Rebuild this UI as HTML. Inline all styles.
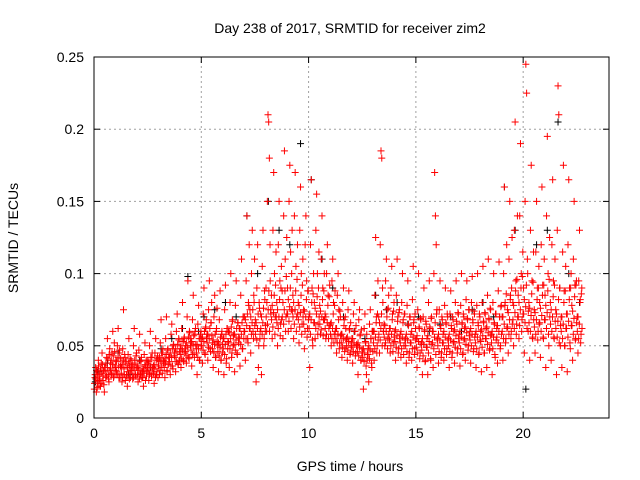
<!DOCTYPE html>
<html><head><meta charset="utf-8"><style>
body{margin:0;background:#fff;}
svg{display:block;font-family:"Liberation Sans",sans-serif;}
</style></head><body>
<svg id="chart" width="640" height="480">
<text x="350" y="33" font-size="14" text-anchor="middle">Day 238 of 2017, SRMTID for receiver zim2</text>
<text x="350" y="471" font-size="14" text-anchor="middle">GPS time / hours</text>
<text x="18" y="238" font-size="14" text-anchor="middle" transform="rotate(-90 18 238)">SRMTID / TECUs</text>
<g id="grid"></g><g id="marks"></g><g id="axes"></g>
</svg>
<script>
// bins: [startHour, values in 1e-3 TECU...]
const redBins = [
[0,20,28,35,18,32,25,40,22],[0.25,30,22,38,45,26,33,18],[0.5,35,28,42,55,30,25,48],[0.75,38,30,45,60,28,52,35],
[1,40,32,50,62,28,45,36],[1.25,35,25,48,75,30,42,38],[1.5,30,22,44,55,36,28,40],[1.75,33,27,50,62,38,29,45],
[2,35,25,47,58,30,40,28],[2.25,32,22,44,52,36,29,40],[2.5,38,26,50,60,31,42,34],[2.75,36,24,45,55,30,41,28],
[3,40,30,52,68,35,45,38],[3.25,38,28,55,70,33,48,42],[3.5,42,30,58,65,36,50,45],[3.75,45,32,60,72,38,55,40],
[4,48,35,62,80,40,55,45],[4.25,50,38,70,95,42,60,55],[4.5,52,36,68,85,45,58,62],[4.75,48,30,65,78,40,55,60],
[5,55,38,72,90,45,62,68],[5.25,58,40,75,95,48,66,80],[5.5,52,35,70,85,42,60,76],[5.75,50,32,68,88,40,58,45],
[6,55,30,75,92,38,62,48],[6.25,60,35,80,100,42,68,50],[6.5,58,32,78,95,45,66,52],[6.75,62,36,85,110,48,70,55],
[7,70,40,95,140,55,80,120],[7.25,75,45,100,130,60,85,110],[7.5,68,25,90,120,35,80,55],[7.75,72,30,105,130,50,88,60],
[8,90,60,150,210,205,180,120,75],[8.25,85,55,130,170,100,70,115],[8.5,80,50,120,150,95,65,105],[8.75,88,55,140,185,110,70,125],
[9,90,60,150,175,115,75,130],[9.25,85,55,140,170,105,70,120],[9.5,80,52,130,160,100,65,110],[9.75,75,48,120,140,95,62,88],
[10,70,35,120,165,90,50,100],[10.25,80,55,130,155,100,65,115],[10.5,78,58,110,140,90,68,100],[10.75,72,55,100,120,85,62,92],
[11,65,50,95,110,80,58,88],[11.25,62,45,85,100,75,52,70],[11.5,58,42,80,90,68,48,62],[11.75,55,40,75,88,62,45,50],
[12,55,38,72,80,60,45,50],[12.25,50,30,68,75,58,40,45],[12.5,45,20,62,72,52,30,40],[12.75,48,25,65,75,55,35,60],
[13,60,40,85,125,70,50,95],[13.25,70,45,120,185,180,90,60],[13.5,65,50,95,110,75,55,85],[13.75,62,45,90,105,72,52,80],
[14,60,40,85,110,70,48,75],[14.25,58,42,80,100,68,50,72],[14.5,55,38,78,95,65,45,70],[14.75,58,40,82,105,68,48,62],
[15,55,35,75,100,62,45,68],[15.25,52,30,70,90,60,40,65],[15.5,55,30,80,95,62,40,70],[15.75,60,35,100,170,140,120,75],
[16,55,38,75,95,62,45,68],[16.25,58,40,78,90,65,48,70],[16.5,55,35,72,88,62,45,68],[16.75,60,38,80,95,65,48,72],
[17,58,36,78,100,65,45,70],[17.25,62,40,82,95,68,50,75],[17.5,60,38,80,98,66,48,72],[17.75,58,35,78,100,64,45,70],
[18,60,32,80,105,66,45,72],[18.25,62,35,85,110,68,48,75],[18.5,58,30,80,100,65,42,72],[18.75,62,38,88,108,70,50,78],
[19,70,40,100,160,80,55,120],[19.25,75,45,110,150,85,60,125],[19.5,80,50,130,205,95,65,140],[19.75,85,55,140,190,100,68,115],
[20,90,45,150,245,225,110,60],[20.25,80,40,130,175,95,55,115],[20.5,75,45,115,150,90,60,105],[20.75,80,42,120,160,92,55,110],
[21,85,35,140,195,100,50,125],[21.25,80,40,120,165,95,55,110],[21.5,75,30,130,230,210,90,50],[21.75,70,35,115,175,88,50,105],
[22,72,32,120,165,90,48,100],[22.25,78,40,110,150,92,55,95],[22.5,70,45,95,130,82,58,90]
];
// dense core band values
const redCore = [
[0,24,30,27,33,21,29,36,26],[0.25,27,34,24,31,37,29,23,35],[0.5,32,38,29,35,41,27,44,33],[0.75,34,40,31,37,43,29,46,36],
[1,33,39,30,42,36,47,28,41],[1.25,31,37,28,40,34,44,26,39],[1.5,29,35,32,38,27,41,33,36],[1.75,31,37,28,34,40,30,43,35],
[2,30,36,33,27,39,31,42,34],[2.25,28,34,31,37,26,40,32,35],[2.5,33,39,30,36,42,29,45,35],[2.75,31,37,34,28,40,32,43,36],
[3,36,42,33,39,45,31,48,40],[3.25,35,41,38,44,32,47,37,42],[3.5,39,45,36,42,48,34,51,43],[3.75,42,48,39,45,51,37,54,46],
[4,44,50,41,47,53,39,56,48],[4.25,46,52,43,49,56,41,59,50],[4.5,47,53,44,50,57,42,60,51],[4.75,45,51,42,48,55,40,58,50],
[5,50,56,47,53,60,44,63,55],[5.25,52,58,49,55,62,46,66,57],[5.5,48,54,45,51,58,42,62,53],[5.75,46,52,43,49,56,40,60,51],
[6,48,55,44,51,58,41,62,53],[6.25,52,59,48,55,63,45,67,57],[6.5,51,58,47,54,62,44,66,56],[6.75,55,62,51,58,66,48,70,60],
[7,60,68,55,64,72,52,78,62],[7.25,62,70,58,66,75,55,80,64],[7.5,58,66,54,62,72,50,76,60],[7.75,62,70,58,66,76,55,82,64],
[8,70,80,65,75,88,60,95,72],[8.25,68,78,63,73,85,58,92,70],[8.5,66,75,62,70,82,57,90,68],[8.75,70,80,65,75,88,60,98,72],
[9,72,82,67,77,90,62,100,74],[9.25,70,80,65,75,88,60,96,72],[9.5,68,78,63,73,85,58,92,70],[9.75,65,74,60,70,82,56,88,68],
[10,62,72,58,68,80,54,86,66],[10.25,66,76,62,72,84,58,90,70],[10.5,65,74,61,70,82,57,88,68],[10.75,62,70,58,66,78,55,84,64],
[11,58,66,55,62,72,52,78,60],[11.25,55,62,52,58,68,48,74,57],[11.5,52,58,49,55,64,46,70,54],[11.75,50,56,47,53,61,44,66,52],
[12,49,55,46,52,60,43,64,51],[12.25,46,52,43,49,57,40,61,48],[12.5,42,48,39,45,53,36,58,44],[12.75,44,50,41,47,55,38,60,46],
[13,52,60,48,56,66,45,72,54],[13.25,58,66,54,62,72,50,80,60],[13.5,56,64,52,60,70,48,76,58],[13.75,54,62,50,58,68,46,74,56],
[14,53,61,49,57,67,45,73,55],[14.25,52,60,48,56,66,44,72,54],[14.5,50,58,46,54,64,42,70,52],[14.75,52,60,48,56,66,44,72,54],
[15,49,57,45,53,63,41,69,51],[15.25,47,55,43,51,61,39,67,49],[15.5,49,57,45,53,63,41,69,51],[15.75,52,60,48,56,66,44,72,54],
[16,50,58,46,54,64,42,70,52],[16.25,52,60,48,56,66,44,72,54],[16.5,50,58,46,54,64,42,70,52],[16.75,53,61,49,57,67,45,73,55],
[17,52,60,48,56,66,44,72,54],[17.25,55,63,51,59,69,47,75,57],[17.5,54,62,50,58,68,46,74,56],[17.75,52,60,48,56,66,44,72,54],
[18,53,61,49,57,67,45,73,55],[18.25,55,63,51,59,69,47,76,57],[18.5,52,60,48,56,66,44,72,54],[18.75,56,64,52,60,70,48,77,58],
[19,60,70,55,65,78,52,86,62],[19.25,63,73,58,68,82,55,90,65],[19.5,68,78,62,73,88,58,96,70],[19.75,70,80,64,75,90,60,98,72],
[20,72,82,66,77,92,62,100,74],[20.25,66,76,60,71,86,56,94,68],[20.5,63,73,58,68,82,54,90,65],[20.75,66,76,60,71,85,56,92,68],
[21,68,78,62,73,88,58,96,70],[21.25,65,75,60,70,84,56,92,67],[21.5,62,72,56,67,82,52,90,64],[21.75,60,70,55,65,80,50,88,62],
[22,62,72,56,67,82,52,90,64],[22.25,64,74,58,69,84,54,92,66],[22.5,60,70,55,65,80,52,86,62]
];
const blackBins = [
[0,25,32],[0.5,38],[1,45],[1.5,30],[2,40],[2.5,35],[3,48],[3.5,55],[4,62],[4.25,98],[4.75,60],[5,70],
[5.5,75],[6,80],[6.5,70],[7,140],[7.5,100],[8,150],[8.5,130],[9,120],[9.5,190],[10,165],[10.5,110],
[11,90],[11.5,70],[12,60],[12.5,55],[13,85],[13.5,75],[14,80],[14.5,65],[15,70],[15.5,60],[16,65],
[16.5,70],[17,60],[17.5,75],[18,80],[18.5,70],[19,160],[19.5,130],[20,20],[20.5,120],[21,130],[21.5,205],[22,100],[22.5,80]
];
const xTicks = [0,5,10,15,20];
const yTicks = [0,0.05,0.1,0.15,0.2,0.25];
const yLabels = ["0","0.05","0.1","0.15","0.2","0.25"];

const X0=94, X1=609, Y0=418, Y1=57, XMAX=24, YMAX=0.25;
const xs = h => X0 + h*(X1-X0)/XMAX;
const ys = v => Y0 - v*(Y0-Y1)/YMAX;
const NS="http://www.w3.org/2000/svg";
const grid=document.getElementById('grid'), marks=document.getElementById('marks'), axes=document.getElementById('axes');
function mk(tag,attrs,parent){const e=document.createElementNS(NS,tag);for(const k in attrs)e.setAttribute(k,attrs[k]);parent.appendChild(e);return e;}

const frame=mk('rect',{x:X0,y:Y1,width:X1-X0,height:Y0-Y1,fill:'none',stroke:'#000','stroke-width':1},axes);


xTicks.forEach(t=>{
  const x=xs(t);
  if(t>0){const g=mk('line',{x1:x,x2:x,y1:Y0,y2:Y1,stroke:'#a0a0a0','stroke-dasharray':'2,3'},grid);
    
    }
  mk('line',{x1:x,x2:x,y1:Y0,y2:Y0-6,stroke:'#000'},axes);
  mk('line',{x1:x,x2:x,y1:Y1,y2:Y1+6,stroke:'#000'},axes);
  const tx=mk('text',{x:x,y:Y0+20,'font-size':14,'text-anchor':'middle'},axes);tx.textContent=t;
  
  
});
yTicks.forEach((t,i)=>{
  const y=ys(t);
  if(t>0&&t<YMAX){const g=mk('line',{x1:X0,x2:X1,y1:y,y2:y,stroke:'#a0a0a0','stroke-dasharray':'2,3'},grid);
    
    }
  mk('line',{x1:X0,x2:X0+6,y1:y,y2:y,stroke:'#000'},axes);
  mk('line',{x1:X1,x2:X1-6,y1:y,y2:y,stroke:'#000'},axes);
  const tx=mk('text',{x:X0-10,y:y+5,'font-size':14,'text-anchor':'end'},axes);tx.textContent=yLabels[i];
  
  
});
function plus(h,v,color,name){
  const x=xs(h),y=ys(v);
  const p=mk('path',{d:`M${x-3.5} ${y}H${x+3.5}M${x} ${y-3.5}V${y+3.5}`,stroke:color,'stroke-width':1,fill:'none'},marks);
  
  
}
blackBins.forEach(b=>{const n=b.length-1;for(let i=1;i<=n;i++)plus(b[0]+0.25*(i-0.5)/n,b[i]/1000,'#000','black-point');});
redBins.forEach(b=>{const n=b.length-1;for(let i=1;i<=n;i++)plus(b[0]+0.25*(i-0.5)/n,b[i]/1000,'#f00','red-point');});
redCore.forEach(b=>{const n=b.length-1;for(let i=1;i<=n;i++)plus(b[0]+0.25*(i-0.25)/n,b[i]/1000,'#f00','red-point');});
</script>
</body></html>
